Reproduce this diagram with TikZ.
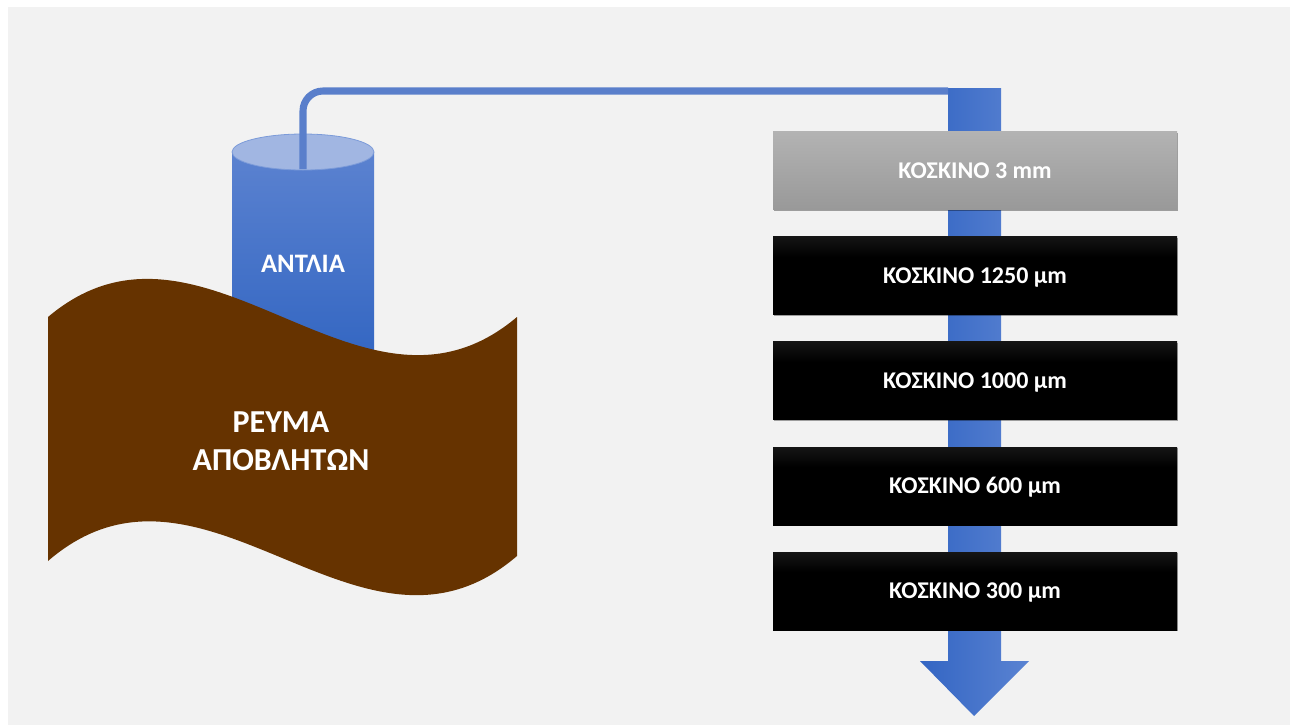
\documentclass[tikz,border=0pt]{standalone}
\usepackage{fontspec}
\setmainfont{Carlito}
\usetikzlibrary{shadows}
\definecolor{panel}{HTML}{F2F2F2}
\definecolor{pipeblue}{HTML}{5A7FCB}
\definecolor{shaftL}{HTML}{3365C3}
\definecolor{shaftR}{HTML}{5A83D2}
\definecolor{cyltop}{HTML}{A1B6E2}
\definecolor{cylA}{HTML}{5B82D0}
\definecolor{cylB}{HTML}{3366C2}
\definecolor{brown}{HTML}{663300}
\definecolor{greyA}{HTML}{B3B3B3}
\definecolor{greyB}{HTML}{999999}
\pgfdeclareverticalshading{sievedark}{100bp}{color(0bp)=(black); color(62bp)=(black); color(100bp)=(black!76)}
\tikzset{
  sievebox/.style={minimum width=303pt, minimum height=58.5pt, inner sep=0pt,
    text=white, font=\bfseries\fontsize{18}{20}\selectfont,
    text height=11.6pt, text depth=0pt,
    drop shadow={shadow xshift=0.8pt, shadow yshift=-0.8pt, opacity=0.35, fill=black}},
  darksieve/.style={sievebox, shading=sievedark},
  lightsieve/.style={sievebox, top color=greyA, bottom color=greyB},
  lbl/.style={text=white, align=center, inner sep=0pt}
}
\begin{document}
\begin{tikzpicture}[x=0.75pt, y=-0.75pt]
\useasboundingbox (0,0) rectangle (1296,725);
\fill[white] (0,0) rectangle (1296,725);
\fill[panel] (8,7) rectangle (1290,725);

% flow shaft with arrow head
\path[left color=shaftL, right color=shaftR]
  (948,88) -- (1001,88) -- (1001,661) -- (1029,661) -- (974,716) -- (920,661) -- (948,661) -- cycle;
\coordinate (shafttop) at (948,91);
\coordinate (tip) at (974,716);

% sieves
\node[lightsieve] (s1) at (975,170.5) {ΚΟΣΚΙΝΟ 3 mm};
\node[darksieve]  (s2) at (975,275.5) {ΚΟΣΚΙΝΟ 1250 μm};
\node[darksieve]  (s3) at (975,380.5) {ΚΟΣΚΙΝΟ 1000 μm};
\node[darksieve]  (s4) at (975,486)   {ΚΟΣΚΙΝΟ 600 μm};
\node[darksieve]  (s5) at (975,591)   {ΚΟΣΚΙΝΟ 300 μm};

% pump cylinder
\path[top color=cylA, bottom color=cylB] (232,152) -- (232,360) -- (374,360) -- (374,152) -- cycle;
\fill[cyltop, draw=cylA!80, line width=0.6pt] (303,152) ellipse [x radius=71, y radius=18];
\coordinate (pumpin) at (303,169);
\node[lbl, font=\bfseries\fontsize{20}{22}\selectfont] (pump) at (303,264) {ΑΝΤΛΙΑ};

% pipe
\draw[pipeblue, line width=5.3pt, rounded corners=15] (pumpin) -- (303,91) -- (shafttop);

% waste stream wave
\fill[brown] (48,317) .. controls (204.3,185) and (360.7,449) .. (517,317)
  -- (517,556) .. controls (360.7,690) and (204.3,426) .. (48,561) -- cycle;
\node[lbl, font=\bfseries\fontsize{24}{28.5}\selectfont] (stream) at (281,441) {ΡΕΥΜΑ\\ΑΠΟΒΛΗΤΩΝ};
\end{tikzpicture}
\end{document}
